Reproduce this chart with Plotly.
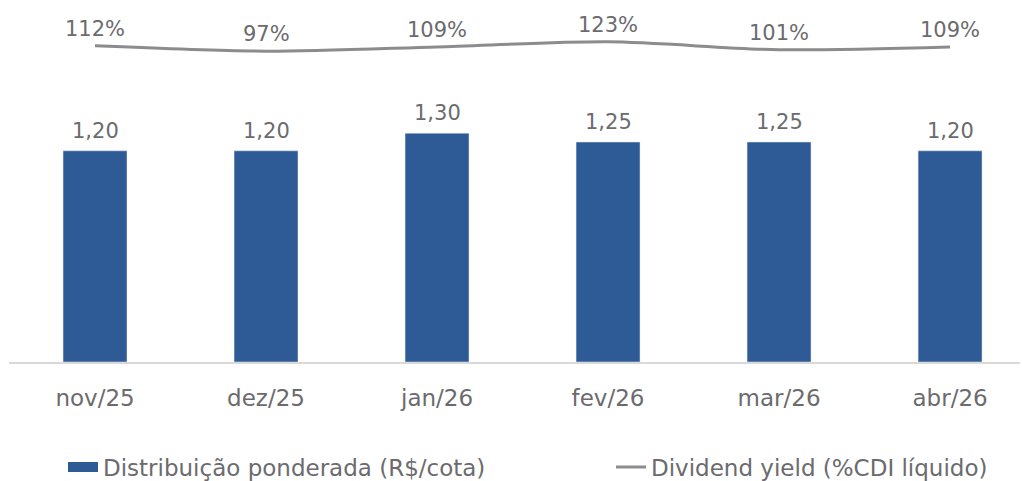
import plotly.graph_objects as go

categories = ["nov/25", "dez/25", "jan/26", "fev/26", "mar/26", "abr/26"]
distribuicao = [1.20, 1.20, 1.30, 1.25, 1.25, 1.20]
dividend_yield = [112, 97, 109, 123, 101, 109]

bar_labels = [f"{v:.2f}".replace(".", ",") for v in distribuicao]
dy_labels = [f"{v}%" for v in dividend_yield]

BLUE = "#2E5A95"
GRAY_LINE = "#8C8C8F"
TEXT = "#6B6B6E"
FONT = "DejaVu Sans"

W, H = 1022, 481

fig = go.Figure()
fig.add_trace(go.Bar(
    x=categories, y=distribuicao, marker_color=BLUE, width=0.374,
    name="Distribuição ponderada (R$/cota)", showlegend=False,
))
fig.add_trace(go.Scatter(
    x=categories, y=dividend_yield, yaxis="y2", mode="lines",
    line=dict(color=GRAY_LINE, width=3, shape="spline", smoothing=0.8),
    name="Dividend yield (%CDI líquido)", showlegend=False,
))
# legend entries
fig.add_trace(go.Scatter(
    x=[None], y=[None], mode="lines", line=dict(color=BLUE, width=13),
    name="Distribuição ponderada (R$/cota)", legend="legend",
))
fig.add_trace(go.Scatter(
    x=[None], y=[None], mode="lines", line=dict(color=GRAY_LINE, width=3),
    name="Dividend yield (%CDI líquido)", legend="legend2",
))

annotations = []
for c, v, t in zip(categories, distribuicao, bar_labels):
    annotations.append(dict(x=c, y=v, xref="x", yref="y", text=t, showarrow=False,
                            yanchor="middle", yshift=20,
                            font=dict(family=FONT, size=21, color=TEXT)))
for c, v, t in zip(categories, dividend_yield, dy_labels):
    annotations.append(dict(x=c, y=v, xref="x", yref="y2", text=t, showarrow=False,
                            yanchor="middle", yshift=17,
                            font=dict(family=FONT, size=21, color=TEXT)))

legend_common = dict(orientation="h", yref="container", y=(H - 467) / H, yanchor="middle",
                     xref="container", xanchor="left",
                     font=dict(family=FONT, size=23, color=TEXT), itemclick=False,
                     bgcolor="rgba(0,0,0,0)")

fig.update_layout(
    width=W, height=H,
    margin=dict(l=9, r=2, t=10, b=119),
    paper_bgcolor="white", plot_bgcolor="white",
    font=dict(family=FONT, color=TEXT, size=21),
    xaxis=dict(range=[-0.503, 5.409], showgrid=False, showline=True,
               linecolor="#D9D9D9", linewidth=2, ticks="",
               ticklabelstandoff=14, tickfont=dict(family=FONT, size=23, color=TEXT)),
    yaxis=dict(range=[0, 2.0], visible=False, showgrid=False),
    yaxis2=dict(range=[-771, 212], overlaying="y", visible=False, showgrid=False),
    showlegend=True,
    legend=dict(x=63 / W, **legend_common),
    legend2=dict(x=611 / W, **legend_common),
    annotations=annotations,
    hovermode=False,
)

fig.write_html(
    "out.html",
    config={"displayModeBar": False, "staticPlot": True},
    post_script="document.documentElement.style.overflow='hidden';"
                "document.body.style.margin='0';document.body.style.overflow='hidden';",
)
